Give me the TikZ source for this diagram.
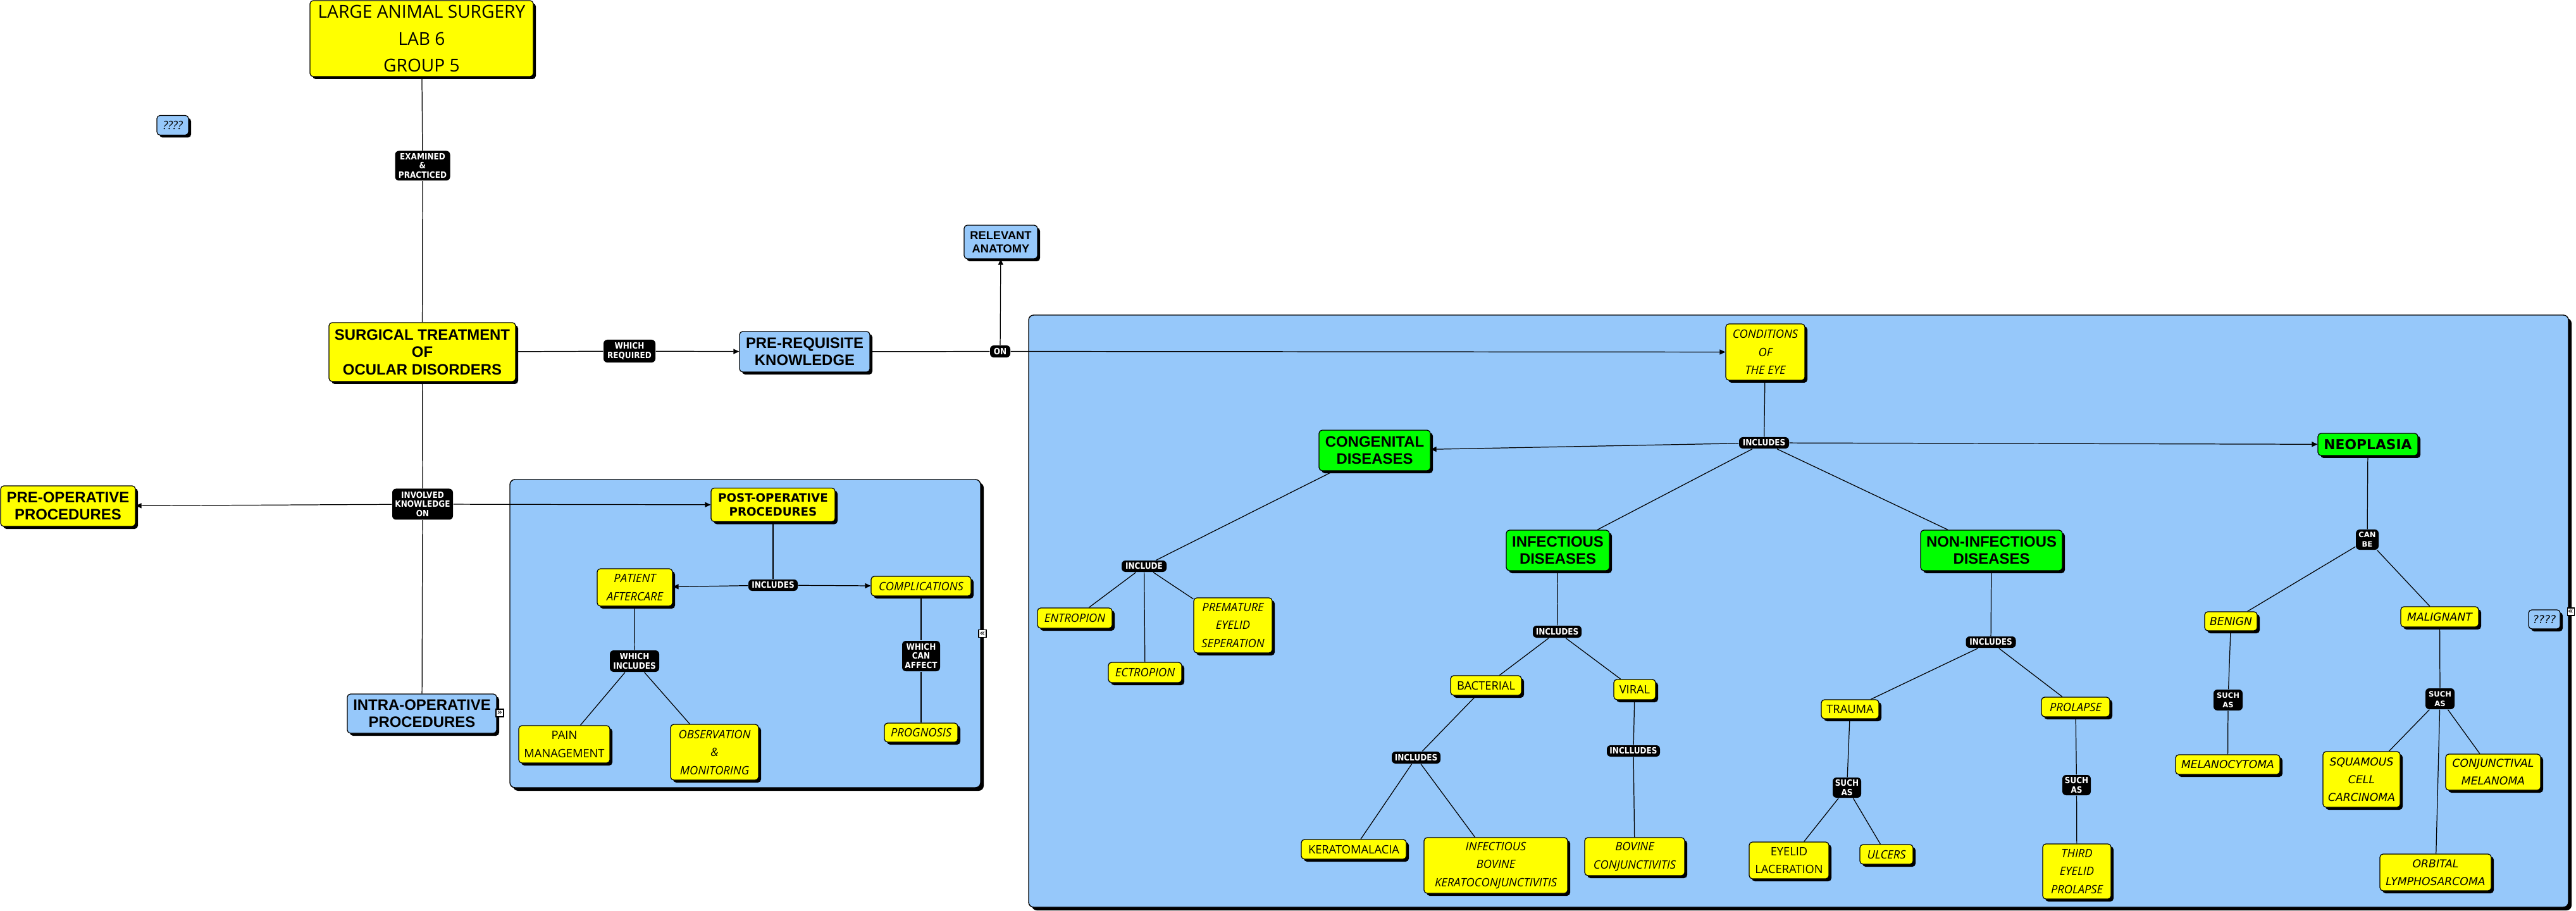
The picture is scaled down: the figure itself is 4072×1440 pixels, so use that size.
\documentclass[tikz,border=0pt]{standalone}
\usepackage{fontspec}
\setmainfont{Liberation Sans}
\newfontfamily\arialf{Liberation Sans}
\newfontfamily\verdf{DejaVu Sans}
\newfontfamily\labf[FakeStretch=0.88]{DejaVu Sans}
\newfontfamily\comicf{Open Sans}
\usetikzlibrary{arrows.meta,shadows}
\definecolor{cblue}{RGB}{150,200,250}
\definecolor{cyel}{RGB}{255,255,0}
\definecolor{cgrn}{RGB}{0,255,0}
\pgfdeclarelayer{panl}
\pgfdeclarelayer{lines}
\pgfsetlayers{panl,lines,main}
\tikzset{
 shad/.style={drop shadow={fill=black,opacity=1,shadow xshift=0.04cm,shadow yshift=-0.04cm}},
 cbox/.style={draw=black,line width=0.35pt,rounded corners=0.05cm,inner sep=0pt,align=center,shad},
 ybox/.style={cbox,fill=cyel},
 bbox/.style={cbox,fill=cblue},
 gbox/.style={cbox,fill=cgrn},
 sz/.style 2 args={minimum width=#1*0.01cm,minimum height=#2*0.01cm},
 lbl/.style={fill=black,text=white,rounded corners=0.06cm,inner sep=0pt,align=center,font=\labf\bfseries\fontsize{3.9}{4.2}\selectfont},
 nlbl/.style={lbl,font=\verdf\bfseries\fontsize{3.3}{4.2}\selectfont},
 bigt/.style={font=\arialf\bfseries\fontsize{6.8}{7.8}\selectfont},
 comic/.style={font=\comicf\fontsize{5.2}{8.1}\selectfont},
 comici/.style={font=\comicf\itshape\fontsize{5.2}{8.1}\selectfont},
 neot/.style={font=\verdf\itshape\fontsize{4.9}{7.9}\selectfont},
 conn/.style={draw=black,line width=0.35pt},
 arr/.style={conn,-{Triangle[length=0.09cm,width=0.08cm]}},
 panel/.style={draw=black,line width=0.4pt,fill=cblue,rounded corners=0.08cm,drop shadow={fill=black,opacity=1,shadow xshift=0.05cm,shadow yshift=-0.05cm}},
 icon/.style={draw=black,fill=white,line width=0.3pt,inner sep=0pt,font=\verdf\fontsize{4}{4}\selectfont}
}
\begin{document}
\begin{tikzpicture}[x=0.01cm,y=-0.01cm]
\useasboundingbox (0,0) rectangle (4072,1440);
\begin{pgfonlayer}{panl}
\fill[white] (0,0) rectangle (4072,1440);
\path[panel] (806,758) rectangle (1550,1245);
\path[panel] (1626,498) rectangle (4060,1434);
\end{pgfonlayer}

% left part
\node[ybox,sz={353}{120},font=\comicf\fontsize{8}{12.1}\selectfont] (title) at (666.5,61) {LARGE ANIMAL SURGERY\\LAB 6\\GROUP 5};
\node[bbox,sz={50}{31},comici] (q1) at (273,198) {????};
\node[lbl,sz={87}{47}] (exam) at (668,262) {EXAMINED\\\&\\PRACTICED};
\node[ybox,sz={295}{93},bigt] (surg) at (667.5,556.5) {SURGICAL TREATMENT\\OF\\OCULAR DISORDERS};
\node[lbl,sz={82}{36}] (wreq) at (995,555) {WHICH\\REQUIRED};
\node[bbox,sz={206}{64},bigt] (prereq) at (1272,556) {PRE-REQUISITE\\KNOWLEDGE};
\node[lbl,sz={32}{19}] (on) at (1581,555.5) {ON};
\node[bbox,sz={116}{53},font=\arialf\bfseries\fontsize{5.2}{5.9}\selectfont] (anat) at (1582,382.5) {RELEVANT\\ANATOMY};
\node[lbl,sz={96}{49}] (invol) at (668,797) {INVOLVED\\KNOWLEDGE\\ON};
\node[ybox,sz={213}{64},bigt] (preop) at (107.5,800) {PRE-OPERATIVE\\PROCEDURES};
\node[bbox,sz={236}{62},bigt] (intra) at (667,1128) {INTRA-OPERATIVE\\PROCEDURES};
\node[icon,sz={12}{12}] (ic1) at (790,1127) {»};

% post-operative panel
\node[ybox,sz={196}{53},font=\verdf\bfseries\fontsize{5.2}{6.2}\selectfont] (postop) at (1222,798) {POST-OPERATIVE\\PROCEDURES};
\node[lbl,sz={78}{18}] (pinc) at (1222,925) {INCLUDES};
\node[ybox,sz={119}{59},comici] (after) at (1003.5,928.5) {PATIENT\\AFTERCARE};
\node[ybox,sz={158}{31},comici] (compl) at (1456,926.5) {COMPLICATIONS};
\node[lbl,sz={78}{34}] (winc) at (1003,1045) {WHICH\\INCLUDES};
\node[ybox,sz={144}{59},comic] (pain) at (892,1176.5) {PAIN\\MANAGEMENT};
\node[ybox,sz={139}{88},comici] (obs) at (1129.5,1189) {OBSERVATION\\\&\\MONITORING};
\node[lbl,sz={60}{48}] (wca) at (1456,1037) {WHICH\\CAN\\AFFECT};
\node[ybox,sz={116}{30},comici] (prog) at (1456,1158) {PROGNOSIS};
\node[icon,sz={12}{12}] (ic2) at (1553,1001.5) {«};

% conditions panel
\node[ybox,sz={125}{89},comici] (cond) at (2790.5,556.5) {CONDITIONS\\OF\\THE EYE};
\node[lbl,sz={79}{18}] (minc) at (2788.5,700) {INCLUDES};
\node[gbox,sz={176}{64},bigt] (cong) at (2173,712) {CONGENITAL\\DISEASES};
\node[gbox,sz={158}{35},font=\verdf\bfseries\fontsize{6.2}{7}\selectfont] (neo) at (3743,702.5) {NEOPLASIA};
\node[gbox,sz={163}{64},bigt] (inf) at (2462.5,870) {INFECTIOUS\\DISEASES};
\node[gbox,sz={224}{64},bigt] (noninf) at (3148,870) {NON-INFECTIOUS\\DISEASES};
\node[lbl,sz={71}{18}] (cinc) at (1808.5,895) {INCLUDE};
\node[ybox,sz={118}{32},comici] (entro) at (1699,977) {ENTROPION};
\node[ybox,sz={116}{32},comici] (ectro) at (1810,1063) {ECTROPION};
\node[ybox,sz={124}{87},comici] (prem) at (1949,988.5) {PREMATURE\\EYELID\\SEPERATION};
\node[lbl,sz={77}{19}] (iinc) at (2461.5,998.5) {INCLUDES};
\node[ybox,sz={112}{31},comic] (bact) at (2349,1083.5) {BACTERIAL};
\node[ybox,sz={66}{32},comic] (viral) at (2584,1090) {VIRAL};
\node[lbl,sz={77}{19}] (binc) at (2238.5,1197.5) {INCLUDES};
\node[lbl,sz={84}{18}] (vinc) at (2582,1187) {INCLLUDES};
\node[ybox,sz={166}{31},comic] (kera) at (2140,1342.5) {KERATOMALACIA};
\node[ybox,sz={227}{88},comici] (ibk) at (2364.5,1368) {INFECTIOUS\\BOVINE\\KERATOCONJUNCTIVITIS};
\node[ybox,sz={158}{60},comici] (bconj) at (2584,1354) {BOVINE\\CONJUNCTIVITIS};
\node[lbl,sz={79}{18}] (ninc) at (3147,1015) {INCLUDES};
\node[ybox,sz={91}{30},comic] (trauma) at (2924.5,1121) {TRAUMA};
\node[ybox,sz={108}{31},comici] (prol) at (3281,1117.5) {PROLAPSE};
\node[lbl,sz={45}{32}] (tsa) at (2919.5,1245) {SUCH\\AS};
\node[lbl,sz={45}{32}] (psa) at (3282.5,1241) {SUCH\\AS};
\node[ybox,sz={126}{58},comic] (elac) at (2828,1360) {EYELID\\LACERATION};
\node[ybox,sz={84}{31},comici] (ulc) at (2982,1350.5) {ULCERS};
\node[ybox,sz={108}{87},comici] (third) at (3283,1377.5) {THIRD\\EYELID\\PROLAPSE};
\node[nlbl,sz={36}{32}] (canbe) at (3742,853) {CAN\\BE};
\node[ybox,sz={83}{30},neot] (ben) at (3526.5,982) {BENIGN};
\node[ybox,sz={123}{32},neot] (mal) at (3856.5,975) {MALIGNANT};
\node[nlbl,sz={46}{33}] (bsa) at (3522,1106.5) {SUCH\\AS};
\node[nlbl,sz={46}{33}] (msa) at (3857,1104.5) {SUCH\\AS};
\node[ybox,sz={165}{31},neot] (melc) at (3521.5,1208.5) {MELANOCYTOMA};
\node[ybox,sz={122}{88},neot] (scc) at (3733,1232) {SQUAMOUS\\CELL\\CARCINOMA};
\node[ybox,sz={150}{57},neot] (cmel) at (3941,1220.5) {CONJUNCTIVAL\\MELANOMA};
\node[ybox,sz={176}{58},neot] (orb) at (3850,1379) {ORBITAL\\LYMPHOSARCOMA};
\node[bbox,sz={50}{30},neot] (q2) at (4022,979) {????};
\node[icon,sz={11}{12}] (ic3) at (4063.5,967) {«};

\begin{pgfonlayer}{lines}
\draw[conn] (title) -- (exam);
\draw[conn] (exam) -- (surg);
\draw[conn] (surg) -- (wreq);
\draw[arr] (wreq) -- (prereq);
\draw[conn] (surg) -- (invol);
\draw[arr] (invol) -- (preop);
\draw[arr] (invol) -- (postop);
\draw[conn] (invol) -- (intra);
\draw[conn] (prereq) -- (on);
\draw[arr] (on) -- (anat);
\draw[arr] (on) -- (cond);
% post-op
\draw[conn] (postop) -- (pinc);
\draw[arr] (pinc) -- (after);
\draw[arr] (pinc) -- (compl);
\draw[conn] (after) -- (winc);
\draw[conn] (winc) -- (pain);
\draw[conn] (winc) -- (obs);
\draw[conn] (compl) -- (wca);
\draw[conn] (wca) -- (prog);
% conditions
\draw[conn] (cond) -- (minc);
\draw[arr] (minc) -- (cong);
\draw[arr] (minc) -- (neo);
\draw[conn] (minc) -- (inf);
\draw[conn] (minc) -- (noninf);
\draw[conn] (cong) -- (cinc);
\draw[conn] (cinc) -- (entro);
\draw[conn] (cinc) -- (ectro);
\draw[conn] (cinc) -- (prem);
\draw[conn] (inf) -- (iinc);
\draw[conn] (iinc) -- (bact);
\draw[conn] (iinc) -- (viral);
\draw[conn] (bact) -- (binc);
\draw[conn] (binc) -- (kera);
\draw[conn] (binc) -- (ibk);
\draw[conn] (viral) -- (vinc);
\draw[conn] (vinc) -- (bconj);
\draw[conn] (noninf) -- (ninc);
\draw[conn] (ninc) -- (trauma);
\draw[conn] (ninc) -- (prol);
\draw[conn] (trauma) -- (tsa);
\draw[conn] (tsa) -- (elac);
\draw[conn] (tsa) -- (ulc);
\draw[conn] (prol) -- (psa);
\draw[conn] (psa) -- (third);
\draw[conn] (neo) -- (canbe);
\draw[conn] (canbe) -- (ben);
\draw[conn] (canbe) -- (mal);
\draw[conn] (ben) -- (bsa);
\draw[conn] (bsa) -- (melc);
\draw[conn] (mal) -- (msa);
\draw[conn] (msa) -- (scc);
\draw[conn] (msa) -- (cmel);
\draw[conn] (msa) -- (orb);
\end{pgfonlayer}
\end{tikzpicture}
\end{document}
